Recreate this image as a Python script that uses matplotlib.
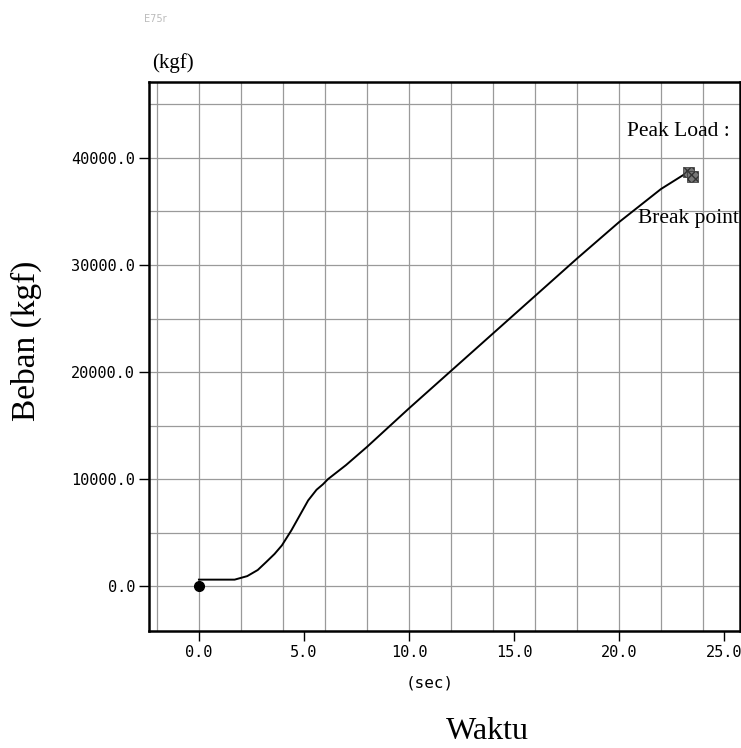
import matplotlib
matplotlib.use("Agg")
import matplotlib.pyplot as plt
import numpy as np

# load curve
time_s = [0.0, 1.7, 2.3, 2.8, 3.2, 3.6, 3.95, 4.4, 4.8, 5.2, 5.6, 5.9, 6.15,
          7.0, 8.0, 9.0, 10.0, 12.0, 14.0, 16.0, 18.0, 20.0, 22.0, 23.3]
load_kgf = [600, 600, 930, 1500, 2240, 3000, 3800, 5200, 6600, 8000, 9000, 9500, 10000,
            11300, 13000, 14800, 16600, 20100, 23600, 27100, 30600, 34000, 37100, 38700]

start_pt = (0.0, 0.0)
peak_pts_t = [23.3, 23.5]
peak_pts_y = [38700, 38300]

xticks = [0, 5, 10, 15, 20, 25]
yticks = [0, 10000, 20000, 30000, 40000]

serif = "Liberation Serif"
mono = "DejaVu Sans Mono"

fig = plt.figure(figsize=(7.41, 7.48), dpi=100)
ax = fig.add_axes([0.201, 0.1564, 0.7976, 0.734])

ax.set_xlim(-2.38, 25.76)
ax.set_ylim(-4200, 47100)

# grid every 2 s and every 5000 kgf
for gx in np.arange(-2, 26, 2):
    ax.axvline(gx, color="#9a9a9a", lw=0.9, zorder=0)
for gy in np.arange(-0, 47000, 5000):
    ax.axhline(gy, color="#9a9a9a", lw=0.9, zorder=0)

ax.plot(time_s, load_kgf, color="black", lw=1.4, zorder=3)
ax.plot(*start_pt, marker="o", color="black", ms=7, zorder=4)
ax.scatter(peak_pts_t, peak_pts_y, marker="s", s=60, facecolor="#777777",
           edgecolor="#333333", hatch="xxxx", lw=0.5, zorder=4)

ax.set_xticks(xticks)
ax.set_xticklabels([f"{v:.1f}" for v in xticks], fontfamily=mono, fontsize=11)
ax.set_yticks(yticks)
ax.set_yticklabels([f"{v:.1f}" for v in yticks], fontfamily=mono, fontsize=11)
ax.tick_params(direction="out", length=7, width=1, color="black", pad=3)

for s in ax.spines.values():
    s.set_linewidth(1.8)

ax.text(20.4, 42500, "Peak Load :", fontfamily=serif, fontsize=15.5,
        va="center", ha="left", clip_on=True)
ax.text(20.9, 34300, "Break point", fontfamily=serif, fontsize=15.5,
        va="center", ha="left", clip_on=True)

fig.text(0.205, 0.903, "(kgf)", fontfamily=serif, fontsize=15, ha="left", va="bottom")
fig.text(0.58, 0.087, "(sec)", fontfamily=mono, fontsize=11.5, ha="center", va="center")
fig.text(0.658, 0.012, "Waktu", fontfamily=serif, fontsize=23, ha="center", va="baseline")
fig.text(0.036, 0.545, "Beban (kgf)", fontfamily=serif, fontsize=24, rotation=90,
         ha="center", va="center")
fig.text(0.21, 0.975, "E75r", fontfamily="DejaVu Sans", fontsize=7, color="#bbbbbb",
         ha="center", va="center")

fig.savefig("out.png", dpi=100)
